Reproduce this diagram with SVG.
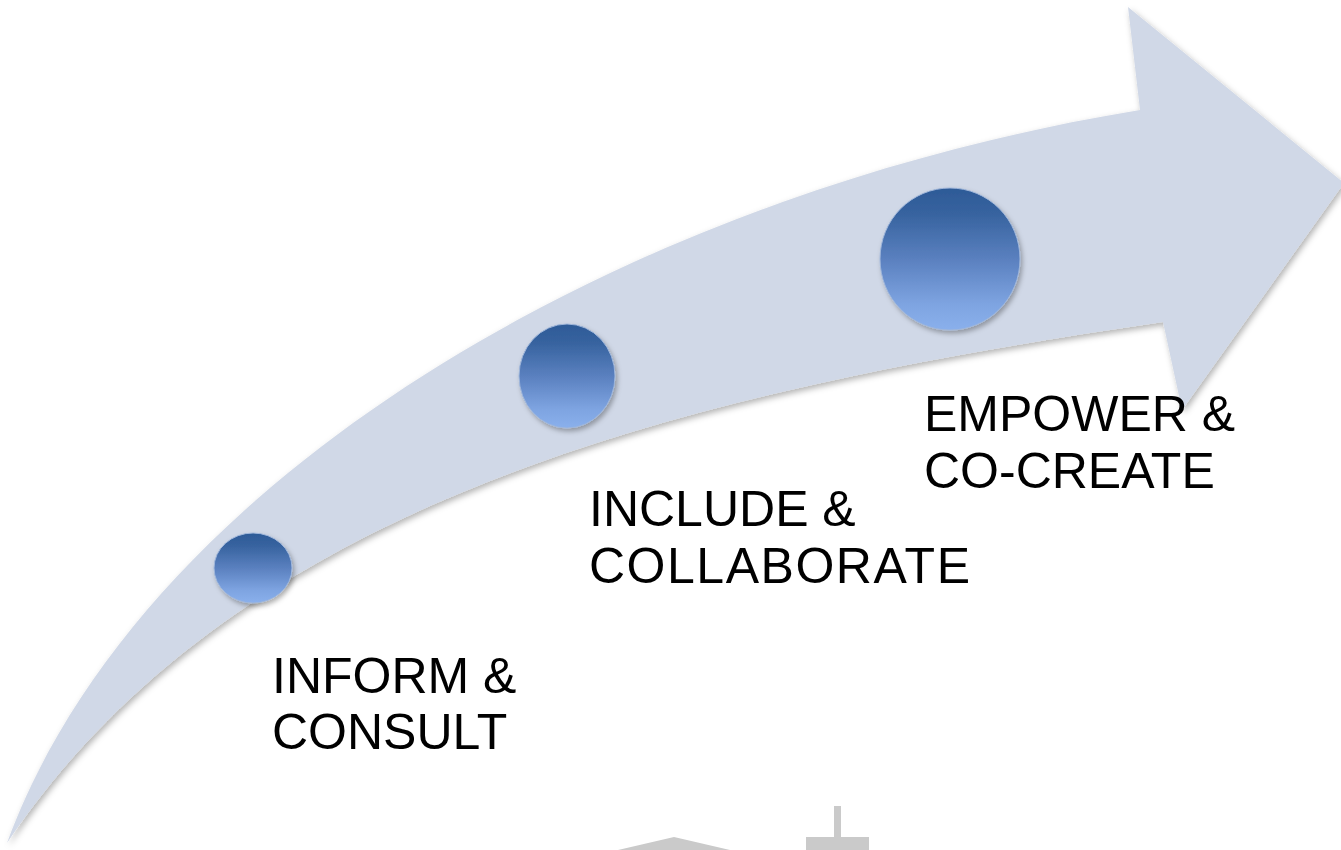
<svg xmlns="http://www.w3.org/2000/svg" width="1341" height="850" viewBox="0 0 1341 850">
  <style>
    .label { font-family: "Liberation Sans", Arial, sans-serif; font-size: 50px; fill: #000000; }
    .ball { fill: url(#ballGrad); stroke: #9fb6da; stroke-width: 1; filter: url(#ballShadow); }
    .arrow { fill: #d0d8e7; filter: url(#arrowShadow); }
    .gray { fill: #cacaca; }
  </style>
  <defs>
    <linearGradient id="ballGrad" x1="0" y1="0" x2="0" y2="1">
      <stop offset="0" stop-color="#2d5a97"/>
      <stop offset="0.18" stop-color="#37639f"/>
      <stop offset="0.5" stop-color="#5a80bf"/>
      <stop offset="0.82" stop-color="#7ea4e1"/>
      <stop offset="1" stop-color="#8ab0ec"/>
    </linearGradient>
    <filter id="arrowShadow" x="-5%" y="-5%" width="110%" height="115%">
      <feDropShadow dx="2" dy="3" stdDeviation="3" flood-color="#000000" flood-opacity="0.3"/>
    </filter>
    <filter id="ballShadow" x="-20%" y="-20%" width="140%" height="140%">
      <feDropShadow dx="2" dy="3" stdDeviation="2.5" flood-color="#000000" flood-opacity="0.3"/>
    </filter>
  </defs>
  <rect width="1341" height="850" fill="#ffffff"/>
  <g id="background-shapes">
    <polygon class="gray" points="618,850 674,837 730,850"/>
    <rect class="gray" x="834" y="806" width="7" height="32"/>
    <rect class="gray" x="806" y="837" width="63" height="13"/>
  </g>
  <g id="connectors">
    <path class="arrow" d="M 7,843 C 140,480 620,195 1140,110 L 1128,7 L 1344,183 L 1182,410 L 1163,322 C 700,390 240,495 7,843 Z"/>
  </g>
  <g id="step-1">
    <ellipse class="ball" cx="253" cy="568" rx="39" ry="35"/>
    <text class="label" x="272" y="693">INFORM &amp;</text>
    <text class="label" x="272" y="749">CONSULT</text>
  </g>
  <g id="step-2">
    <ellipse class="ball" cx="567" cy="376" rx="48" ry="52"/>
    <text class="label" x="589" y="526">INCLUDE &amp;</text>
    <text class="label" x="589" y="583" textLength="381">COLLABORATE</text>
  </g>
  <g id="step-3">
    <ellipse class="ball" cx="950" cy="259" rx="70" ry="71"/>
    <text class="label" x="924" y="431">EMPOWER &amp;</text>
    <text class="label" x="924" y="488">CO-CREATE</text>
  </g>
</svg>
